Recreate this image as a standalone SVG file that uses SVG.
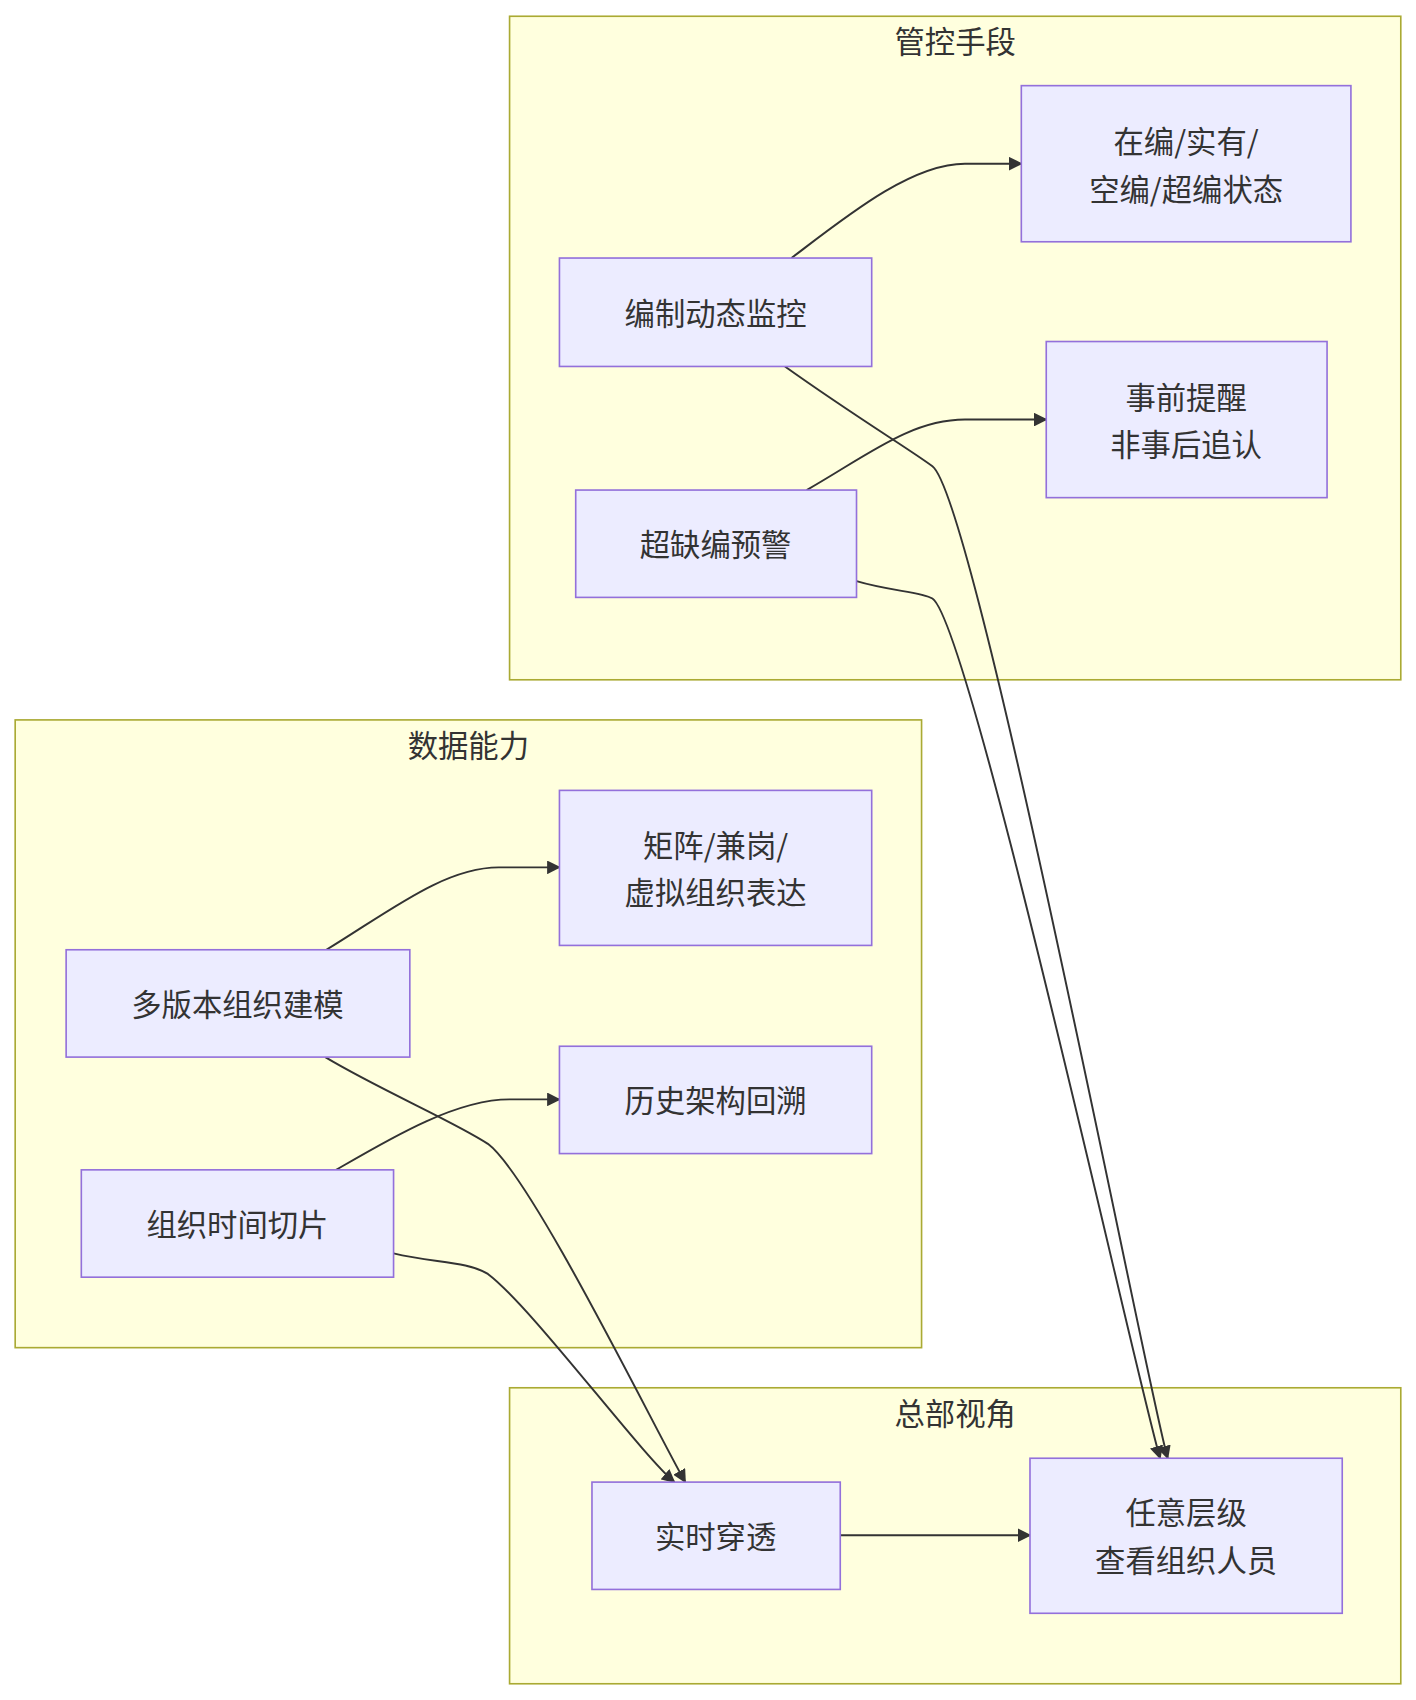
<svg xmlns="http://www.w3.org/2000/svg" width="1416" height="1700" viewBox="0 0 1416 1700">
<defs>
<style>
.c{fill:#ffffde;stroke:#aaaa33;stroke-width:1.5}
.n{fill:#ececff;stroke:#9370db;stroke-width:1.5}
text{font-family:"Noto Sans CJK SC","Liberation Sans",sans-serif;font-size:28px;fill:#333;text-anchor:middle;dominant-baseline:central}
.e{fill:none;stroke:#333;stroke-width:1.8;marker-end:url(#a)}
</style>
<marker id="a" viewBox="0 0 10 10" refX="9" refY="5" markerWidth="7" markerHeight="7" orient="auto"><path d="M0,0L10,5L0,10z" fill="#333"/></marker>
</defs>
<rect width="1416" height="1700" fill="#fff"/>
<g transform="scale(1.0842)">
<g id="cluster-guankong"><rect class="c" x="470" y="15" width="822" height="612"/><text x="881" y="37">管控手段</text></g>
<g id="cluster-shuju"><rect class="c" x="14" y="664" width="836" height="579"/><text x="432" y="686">数据能力</text></g>
<g id="cluster-zongbu"><rect class="c" x="470" y="1280" width="822" height="273"/><text x="881" y="1302">总部视角</text></g>
<g id="edges">
<path class="e" d="M730,238 C780,200 840,151 890,151 L942,151"/>
<path class="e" d="M724,338 C790,385 840,415 860,430 C900,460 1060,1290 1077,1345"/>
<path class="e" d="M744,452 C800,420 840,387 890,387 L965,387"/>
<path class="e" d="M790,536 C820,545 850,546 860,552 C895,575 1050,1280 1070,1345"/>
<path class="e" d="M301,876 C360,840 410,800 460,800 L516,800"/>
<path class="e" d="M300,975 C350,1005 420,1035 450,1055 C490,1085 600,1310 632,1367"/>
<path class="e" d="M310,1079 C360,1050 420,1014 470,1014 L516,1014"/>
<path class="e" d="M363,1156 C400,1165 430,1163 450,1175 C490,1205 590,1340 622,1367"/>
<path class="e" d="M775,1416 L950,1416"/>
</g>
<g id="n1"><rect class="n" x="942" y="79" width="304" height="144"/><text x="1094" y="129">在编/实有/</text><text x="1094" y="173">空编/超编状态</text></g>
<g id="n2"><rect class="n" x="516" y="238" width="288" height="100"/><text x="660" y="288">编制动态监控</text></g>
<g id="n3"><rect class="n" x="965" y="315" width="259" height="144"/><text x="1094" y="365">事前提醒</text><text x="1094" y="409">非事后追认</text></g>
<g id="n4"><rect class="n" x="531" y="452" width="259" height="99"/><text x="660" y="501">超缺编预警</text></g>
<g id="n5"><rect class="n" x="516" y="729" width="288" height="143"/><text x="660" y="778">矩阵/兼岗/</text><text x="660" y="822">虚拟组织表达</text></g>
<g id="n6"><rect class="n" x="61" y="876" width="317" height="99"/><text x="219" y="925">多版本组织建模</text></g>
<g id="n7"><rect class="n" x="516" y="965" width="288" height="99"/><text x="660" y="1014">历史架构回溯</text></g>
<g id="n8"><rect class="n" x="75" y="1079" width="288" height="99"/><text x="219" y="1128">组织时间切片</text></g>
<g id="n9"><rect class="n" x="546" y="1367" width="229" height="99"/><text x="660" y="1416">实时穿透</text></g>
<g id="n10"><rect class="n" x="950" y="1345" width="288" height="143"/><text x="1094" y="1394">任意层级</text><text x="1094" y="1438">查看组织人员</text></g>
</g>
</svg>
